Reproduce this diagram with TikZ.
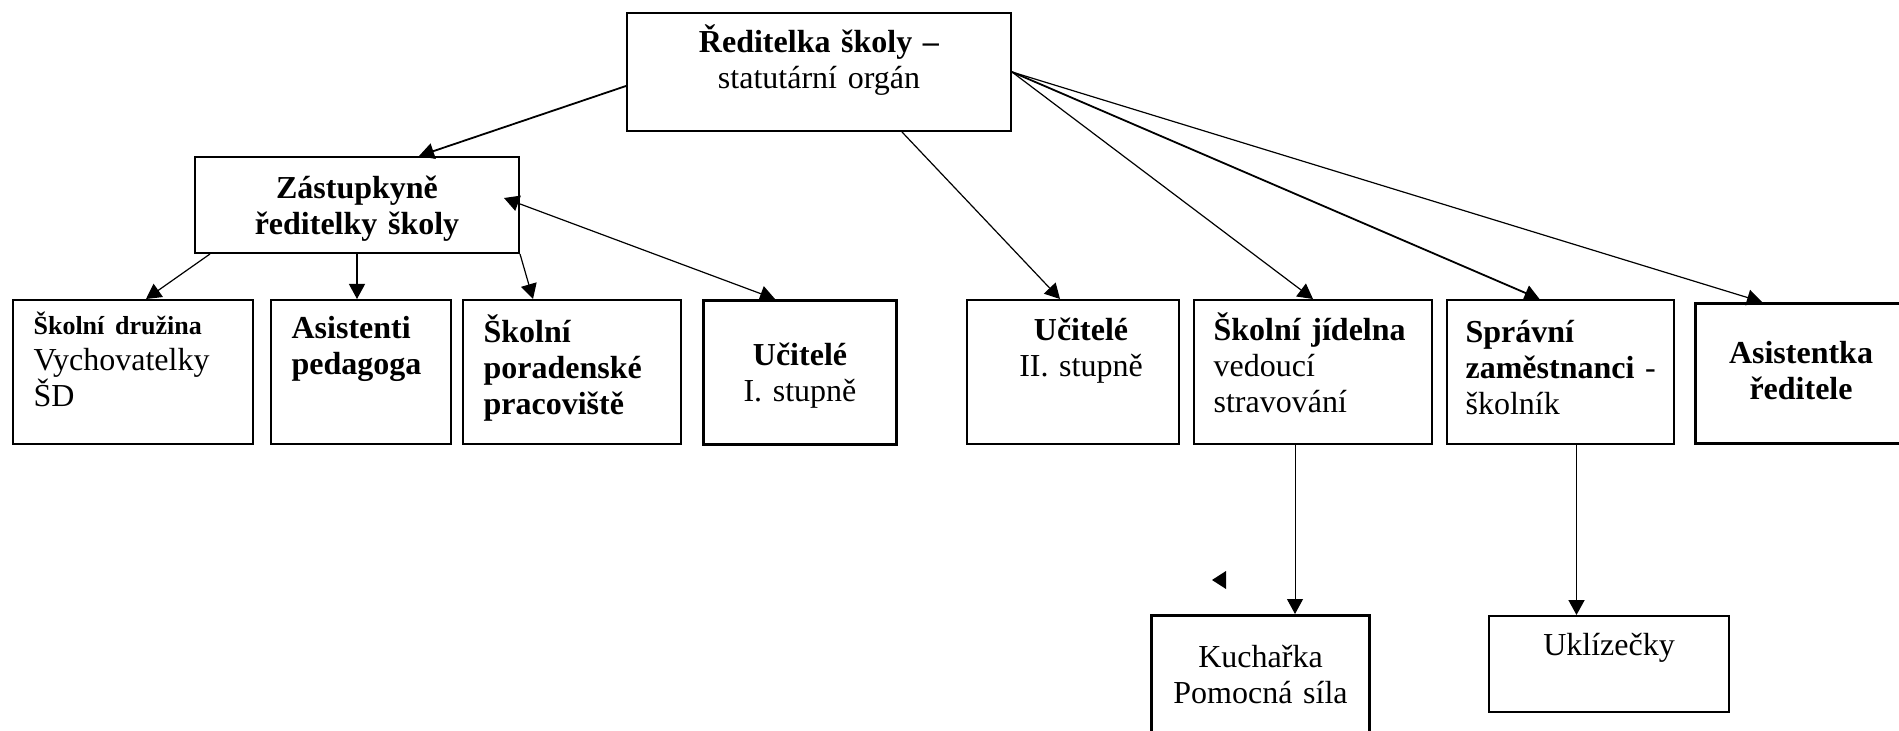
\documentclass[tikz,border=0pt]{standalone}
\usepackage{fontspec}
\setmainfont{Liberation Serif}
\usetikzlibrary{arrows.meta,calc}

\tikzset{
  orgbox/.style={draw, line width=1pt, anchor=north west, inner sep=0pt},
  heavy/.style={line width=1.5pt},
  tlabel/.style={inner sep=0pt, text height=10pt, font=\fontsize{16}{18}\selectfont},
  lleft/.style={tlabel, text width=115pt, align=left, anchor=north west},
  lmid/.style={tlabel, text width=180pt, align=center, anchor=north}
}

\begin{document}
\begin{tikzpicture}[x=0.5pt,y=-0.5pt,>={Triangle[length=7.5pt,width=8pt]},line width=0.6pt]
\useasboundingbox (0,0) rectangle (1899,731);

% vedeni
\node[orgbox, minimum width=192pt, minimum height=59pt,
  label={[lmid, yshift=-10pt]north:{\textbf{Ředitelka školy –}\\statutární orgán}}] (rd) at (626,12) {};
\node[orgbox, minimum width=162pt, minimum height=48pt,
  label={[lmid, yshift=-11pt]north:{\textbf{Zástupkyně}\\\textbf{ředitelky školy}}}] (zast) at (194,156) {};

% prvni rada
\node[orgbox, minimum width=120pt, minimum height=72pt,
  label={[lleft, xshift=10.5pt, yshift=-7.5pt]north west:{{\fontsize{13}{15}\selectfont\bfseries Školní družina}\\Vychovatelky\\ŠD}}] (druz) at (12,299) {};
\node[orgbox, minimum width=90pt, minimum height=72pt,
  label={[lleft, xshift=10.5pt, yshift=-9.5pt]north west:{\textbf{Asistenti}\\\textbf{pedagoga}}}] (asped) at (270,299) {};
\node[orgbox, minimum width=109pt, minimum height=72pt,
  label={[lleft, xshift=10.5pt, yshift=-11.5pt]north west:{\textbf{Školní}\\\textbf{poradenské}\\\textbf{pracoviště}}}] (spp) at (462,299) {};
\node[orgbox, heavy, minimum width=96.5pt, minimum height=72pt,
  label={[lmid, yshift=-23pt]north:{\textbf{Učitelé}\\I. stupně}}] (uc1) at (702,299) {};
\node[orgbox, minimum width=106pt, minimum height=72pt,
  label={[lmid, xshift=4pt, yshift=-10.5pt]north:{\textbf{Učitelé}\\II. stupně}}] (uc2) at (966,299) {};
\node[orgbox, minimum width=119pt, minimum height=72pt,
  label={[lleft, xshift=10pt, yshift=-10.5pt]north west:{\textbf{Školní jídelna}\\vedoucí\\stravování}}] (sj) at (1193,299) {};
\node[orgbox, minimum width=113.5pt, minimum height=72pt,
  label={[lleft, xshift=9.5pt, yshift=-11.5pt]north west:{\textbf{Správní}\\\textbf{zaměstnanci} -\\školník}}] (sz) at (1446,299) {};
\node[orgbox, heavy, minimum width=105.5pt, minimum height=70pt,
  label={[lmid, yshift=-20.5pt]north:{\textbf{Asistentka}\\\textbf{ředitele}}}] (asr) at (1694,302) {};

% druha rada
\node[orgbox, heavy, minimum width=109pt, minimum height=65pt,
  label={[lmid, yshift=-16.5pt]north:{Kuchařka\\Pomocná síla}}] (kuch) at (1150,614) {};
\node[orgbox, minimum width=120pt, minimum height=48pt,
  label={[lmid, yshift=-10pt]north:{Uklízečky}}] (ukl) at (1488,615) {};

\coordinate (sjdown) at ($(sj.south)+(-18,0)$);
\coordinate (szdown) at ($(sz.south)+(16,0)$);

\draw[->, line width=0.9pt] ($(rd.west)+(0,14)$) -- ($(zast.north)+(62,0)$);
\draw[->] ($(rd.south)+(83,0)$) -- ($(uc2.north)+(-13,0)$);
\draw[->] (rd.east) -- (sj.north);
\draw[->, line width=0.9pt] (rd.east) -- ($(sz.north)+(-21,0)$);
\draw[->] (rd.east) -- ($(asr.north west)+(68,0)$);
\draw[->] ($(zast.south west)+(16,0)$) -- ($(druz.north)+(13,0)$);
\draw[->] (zast.south) -- (zast.south |- asped.north);
\draw[->] (zast.south east) -- ($(spp.north west)+(71,0)$);
\draw[<->] ($(zast.east)+(-16,-7)$) -- ($(uc1.north)+(-25,0)$);
\draw[->, line width=0.5pt] (sjdown) -- (sjdown |- kuch.north);
\draw[->, line width=0.9pt] (szdown) -- (szdown |- ukl.north);
\fill (1212,580) -- (1226,571) -- (1226,589) -- cycle;
\end{tikzpicture}
\end{document}
